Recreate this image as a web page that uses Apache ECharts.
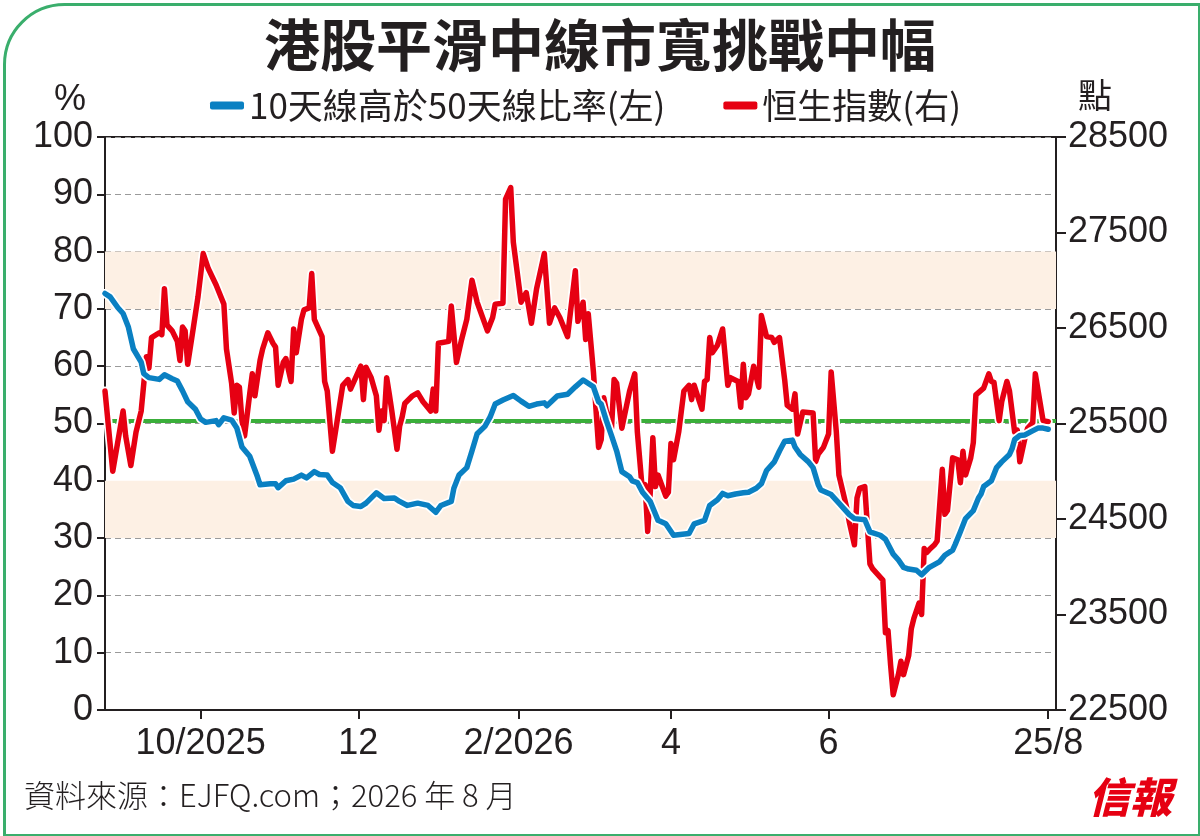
<!DOCTYPE html>
<html>
<head>
<meta charset="utf-8">
<script src="https://cdn.jsdelivr.net/npm/echarts@6/dist/echarts.min.js"></script>
<style>
  html, body { margin: 0; padding: 0; background: #fff; }
  #chart { width: 1200px; height: 836px; }
</style>
</head>
<body>
<div id="chart"></div>
<script>
// x values are days counted from 25/8/2025
const tickDays = [37, 98, 160, 219, 280, 365];
const tickLabels = ['10/2025', '12', '2/2026', '4', '6', '25/8'];
const bandRanges = [[30, 40], [70, 80]];
const midLevel = 50.5;

// 10天線高於50天線比率 (%)
const ratioPoints = [
  [0,72.7],[2,72.1],[5,70.2],[7,69.2],[9,66.9],[11,63],[14,60.7],[15,58.7],[17,58],[21,57.7],
  [23,58.5],[26,57.8],[28,57.4],[30,55.7],[32,53.8],[35,52.5],[37,50.8],[39,50.2],[43,50.5],[44,49.8],
  [46,51],[49,50.6],[51,49.2],[53,45.9],[56,44.3],[59,40.7],[60,39.3],[64,39.5],[66,39.5],[67,38.8],
  [70,40],[73,40.3],[76,41],[78,40.5],[81,41.6],[83,41.1],[86,41],[88,39.7],[91,38.8],[94,36.4],
  [96,35.7],[99,35.5],[101,36.1],[105,37.9],[108,36.9],[112,37],[114,36.4],[117,35.7],[121,36.1],[125,35.7],
  [128,34.5],[130,35.7],[134,36.4],[135,38.7],[137,41],[140,42.3],[142,45.2],[144,48.2],[147,49.5],[149,51.1],
  [151,53.4],[154,54.1],[158,54.9],[161,53.9],[164,53],[167,53.4],[170,53.6],[171,53.1],[175,54.8],[179,55.1],
  [182,56.4],[185,57.6],[189,56.4],[191,53.8],[192,53.4],[194,50.5],[196,47.9],[198,45.2],[200,41.6],[203,40.7],
  [204,40],[206,39.7],[208,38],[211,36.4],[214,33.1],[217,32.5],[220,30.5],[226,30.8],[228,32.5],[232,33.1],
  [234,35.7],[237,36.7],[239,37.8],[241,37.4],[244,37.7],[247,37.9],[249,38],[252,38.7],[254,39.5],[256,41.8],
  [259,43.3],[261,45.2],[263,46.9],[266,47.1],[267,45.9],[269,44.6],[272,43.4],[274,42.3],[276,39.3],[277,38.4],
  [281,37.6],[284,36.1],[286,35.1],[288,34.1],[290,33.4],[294,33.2],[296,31.1],[300,30.5],[302,29.8],[305,27.2],
  [307,26.2],[309,24.9],[311,24.6],[314,24.4],[316,23.6],[319,24.9],[323,25.9],[325,27],[328,27.9],[329,28.9],
  [331,31.1],[333,33.4],[336,34.8],[338,37],[339,37.7],[340,39],[343,40],[345,42.3],[347,43.3],[350,44.6],
  [351,45.6],[352,47.2],[354,47.9],[356,48],[358,48.5],[361,49.2],[363,49.2],[365,49]
];

// 恒生指數 (點)
const hsiPoints = [
  [0,25840],[3,25000],[7,25630],[8,25370],[10,25060],[12,25410],[14,25630],[16,26200],[17,26080],[18,26400],
  [21,26450],[22,26430],[23,26910],[24,26530],[26,26470],[28,26360],[29,26160],[30,26510],[31,26470],[32,26120],
  [34,26470],[36,26830],[38,27280],[40,27120],[43,26950],[46,26750],[47,26280],[49,25920],[50,25610],[51,25900],
  [52,25880],[53,25530],[54,25370],[56,25810],[57,26020],[58,25790],[60,26160],[61,26280],[63,26450],[65,26340],
  [66,26300],[67,25900],[69,26140],[70,26180],[72,25940],[73,26490],[74,26240],[76,26590],[77,26690],[79,26710],
  [80,27070],[81,26590],[84,26410],[85,25940],[86,25840],[88,25210],[92,25900],[94,25960],[95,25860],[99,26100],
  [100,25750],[101,26090],[103,25980],[105,25790],[106,25430],[107,25630],[108,25530],[109,25980],[110,25810],[111,25630],
  [113,25230],[114,25470],[115,25570],[116,25710],[119,25790],[121,25820],[123,25730],[126,25630],[127,25860],[128,25630],
  [129,26340],[133,26360],[134,26730],[136,26140],[138,26380],[140,26590],[142,27000],[144,26770],[148,26470],[150,26610],
  [151,26750],[154,26760],[155,27850],[157,27970],[158,27400],[161,26770],[163,26870],[165,26550],[167,26910],[170,27280],
  [172,26550],[174,26710],[176,26610],[179,26410],[182,27100],[183,26570],[185,26770],[186,26380],[187,26650],[189,26040],
  [191,25250],[192,25330],[193,25770],[194,25630],[196,25450],[197,25960],[198,25920],[200,25450],[203,25840],[205,26020],
  [206,25410],[208,24780],[209,24860],[210,24370],[211,24780],[212,25350],[213,24840],[214,24960],[217,24740],[218,24780],
  [219,25290],[220,25120],[222,25410],[224,25840],[226,25900],[227,25750],[228,25900],[230,25730],[231,25650],[232,25940],
  [233,25960],[234,26400],[235,26240],[237,26320],[239,26490],[241,25900],[242,25980],[245,25940],[246,25670],[247,26120],
  [248,25770],[249,25810],[251,26100],[253,25880],[254,26630],[256,26410],[258,26400],[259,26350],[261,26400],[263,25960],
  [264,25690],[266,25650],[267,25810],[268,25390],[270,25620],[274,25610],[275,25100],[276,25180],[278,25250],[280,25390],
  [281,26040],[283,25410],[284,24960],[287,24620],[288,24470],[290,24230],[291,24720],[292,24820],[294,24840],[295,24430],
  [296,24030],[297,23980],[301,23860],[302,23310],[303,23330],[304,22970],[305,22660],[307,22870],[308,23010],[309,22870],
  [311,23070],[312,23350],[313,23460],[315,23620],[316,23500],[317,24190],[318,24150],[319,24180],[321,24230],[322,24270],
  [324,25020],[325,24550],[326,24590],[328,25140],[330,25120],[331,24880],[332,25210],[333,24960],[335,25140],[336,25300],
  [337,25800],[340,25870],[342,26020],[343,25940],[344,25930],[346,25530],[347,25730],[349,25940],[350,25840],[352,25410],
  [353,25430],[354,25100],[356,25350],[357,25450],[359,25510],[360,26020],[363,25530],[365,25520]
];

const INK = '#231f20';
const NUM_FONT = '"Liberation Sans", Arial, sans-serif';
const CJK_FONT = '"Noto Sans CJK TC", "Noto Sans CJK SC", sans-serif';
const BLUE = '#0a80c2';
const RED = '#e60012';

const chart = echarts.init(document.getElementById('chart'), null, { renderer: 'canvas' });

chart.setOption({
  backgroundColor: '#fff',
  animation: false,
  title: {
    text: '港股平滑中線市寬挑戰中幅',
    left: 'center',
    top: 12,
    textStyle: { fontFamily: CJK_FONT, fontSize: 56, fontWeight: 'bold', color: INK }
  },
  legend: {
    left: 205,
    top: 83,
    itemGap: 58,
    itemWidth: 34,
    itemHeight: 8,
    icon: 'roundRect',
    textStyle: { fontFamily: CJK_FONT, fontSize: 35, color: INK },
    data: ['10天線高於50天線比率(左)', '恒生指數(右)']
  },
  grid: {
    left: 105, right: 144, top: 137, bottom: 126,
    show: true, borderColor: INK, borderWidth: 2
  },
  xAxis: {
    type: 'value',
    min: 0,
    max: 368,
    axisLine: { lineStyle: { color: INK, width: 2 } },
    axisTick: { show: true, customValues: tickDays, length: 9, lineStyle: { color: INK, width: 2 } },
    axisLabel: {
      customValues: tickDays,
      formatter: v => {
        const i = tickDays.indexOf(v);
        return i >= 0 ? tickLabels[i] : '';
      },
      fontFamily: NUM_FONT, fontSize: 36, color: INK, margin: 16
    },
    splitLine: { show: false }
  },
  yAxis: [
    {
      type: 'value', min: 0, max: 100, interval: 10,
      axisLine: { show: true, lineStyle: { color: INK, width: 2 } },
      axisTick: { show: true, length: 8, lineStyle: { color: INK, width: 2 } },
      axisLabel: { fontFamily: NUM_FONT, fontSize: 36, color: INK, margin: 12 },
      splitLine: { show: true, lineStyle: { color: '#9a9a9a', width: 1, type: [6, 4] } }
    },
    {
      type: 'value', min: 22500, max: 28500, interval: 1000,
      axisLine: { show: true, lineStyle: { color: INK, width: 2 } },
      axisTick: { show: true, length: 10, lineStyle: { color: INK, width: 2 } },
      axisLabel: { formatter: v => String(v), fontFamily: NUM_FONT, fontSize: 36, color: INK, margin: 12 },
      splitLine: { show: false }
    }
  ],
  series: [
    {
      // bands and the green mid line
      type: 'line', yAxisIndex: 0, data: ratioPoints, z: 1, silent: true,
      showSymbol: false, symbol: 'none', lineStyle: { width: 0, opacity: 0 },
      markArea: {
        silent: true, z: 1,
        itemStyle: { color: '#fdf0e4' },
        data: bandRanges.map(r => [{ yAxis: r[0] }, { yAxis: r[1] }])
      },
      markLine: {
        silent: true, z: 1, symbol: 'none', label: { show: false },
        lineStyle: { color: '#3aae3a', width: 4, type: 'solid' },
        data: [{ yAxis: midLevel }]
      }
    },
    {
      type: 'line', yAxisIndex: 1, data: hsiPoints, z: 2, silent: true,
      symbol: 'none', lineStyle: { color: '#fff', width: 9, join: 'round', cap: 'round' }
    },
    {
      name: '恒生指數(右)',
      type: 'line', yAxisIndex: 1, data: hsiPoints, z: 3,
      symbol: 'none', itemStyle: { color: RED },
      lineStyle: { color: RED, width: 5.5, join: 'round', cap: 'round' }
    },
    {
      type: 'line', yAxisIndex: 0, data: ratioPoints, z: 4, silent: true,
      symbol: 'none', lineStyle: { color: '#fff', width: 9, join: 'round', cap: 'round' }
    },
    {
      name: '10天線高於50天線比率(左)',
      type: 'line', yAxisIndex: 0, data: ratioPoints, z: 5,
      symbol: 'none', itemStyle: { color: BLUE },
      lineStyle: { color: BLUE, width: 5.5, join: 'round', cap: 'round' }
    }
  ],
  graphic: [
    {
      type: 'rect', left: 2, top: 2, z: 100, silent: true,
      shape: { width: 1195, height: 831, r: [60, 0, 0, 0] },
      style: { fill: null, stroke: '#3aae6c', lineWidth: 3 }
    },
    {
      type: 'text', left: 54, top: 82,
      style: { text: '%', fontFamily: NUM_FONT, fontSize: 36, fill: INK }
    },
    {
      type: 'text', left: 1078, top: 78,
      style: { text: '點', fontFamily: CJK_FONT, fontSize: 34, fill: INK }
    },
    {
      type: 'text', left: 24, top: 780,
      style: { text: '資料來源：EJFQ.com；2026 年 8 月', fontFamily: CJK_FONT, fontSize: 31, fontWeight: 300, fill: INK }
    },
    {
      type: 'text', left: 1088, top: 776,
      style: { text: '信報', fontFamily: CJK_FONT, fontSize: 42, fontWeight: 900, fontStyle: 'italic', fill: RED }
    }
  ]
});
</script>
</body>
</html>
